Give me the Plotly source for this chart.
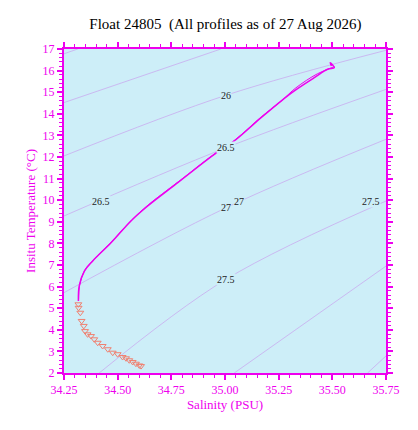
import plotly.graph_objects as go

# density contours (sigma-theta)
contours = {
    '25.0': ([34.25, 34.314], [16.78, 17.0]),
    '25.5': ([34.25, 34.981], [14.52, 17.0]),
    '26': ([34.25, 35.005, 35.75], [12.05, 14.86, 16.94]),
    '26.5': ([34.25, 35.005, 35.75], [9.27, 12.43, 15.13]),
    '27': ([34.25, 35.005, 35.75], [5.72, 9.65, 12.82]),
    '27.5': ([34.414, 35.005, 35.75], [2.0, 6.34, 9.96]),
    '28': ([35.043, 35.75], [2.0, 6.95]),
    '28.5': ([35.664, 35.75], [2.0, 2.79]),
}
labels_text = ['26', '26.5', '26.5', '27', '27', '27.5', '27.5']
labels_s = [35.005, 35.005, 34.422, 35.005, 35.066, 35.68, 35.005]
labels_t = [14.86, 12.43, 9.93, 9.65, 9.96, 9.96, 6.34]

# profiles
prof_s = [34.317, 34.321, 34.345, 34.384, 34.469, 34.562, 34.640, 34.780, 34.950,
          35.043, 35.168, 35.261, 35.323, 35.416, 35.478, 35.509, 35.490, 35.496]
prof_t = [5.33, 6.03, 6.72, 7.19, 8.03, 9.04, 9.73, 10.81, 12.12,
          12.74, 13.82, 14.59, 15.06, 15.67, 16.06, 16.13, 16.37, 16.21]
prof2_s = [35.509, 35.430, 35.330, 35.265, 35.170, 35.045, 34.952, 34.782, 34.642,
           34.565, 34.472, 34.388, 34.348, 34.323, 34.318]
prof2_t = [16.18, 15.85, 15.20, 14.62, 13.86, 12.78, 12.15, 10.85, 9.78,
           9.08, 8.08, 7.24, 6.78, 6.08, 5.40]

deep_s = [34.317, 34.318, 34.326, 34.332, 34.342, 34.348, 34.36, 34.376, 34.391, 34.407,
          34.43, 34.454, 34.477, 34.5, 34.523, 34.539, 34.554, 34.57, 34.585, 34.601, 34.609]
deep_t = [5.18, 5.02, 4.79, 4.41, 4.18, 3.94, 3.79, 3.71, 3.56, 3.40,
          3.25, 3.10, 2.94, 2.87, 2.74, 2.68, 2.59, 2.51, 2.43, 2.35, 2.32]

fig = go.Figure()
for name, (s, t) in contours.items():
    fig.add_trace(go.Scatter(x=s, y=t, mode='lines', line=dict(color='#c9a2ee', width=0.7),
                             line_shape='spline', hoverinfo='skip'))

fig.add_trace(go.Scatter(x=deep_s, y=deep_t, mode='markers',
                         marker=dict(symbol='triangle-down-open', size=6, color='#f08070')))
fig.add_trace(go.Scatter(x=prof_s, y=prof_t, mode='lines', line_shape='spline',
                         line=dict(color='#ee00ee', width=1.5)))
fig.add_trace(go.Scatter(x=prof2_s, y=prof2_t, mode='lines', line_shape='spline',
                         line=dict(color='#ee00ee', width=1)))

for txt, s, t in zip(labels_text, labels_s, labels_t):
    fig.add_annotation(x=s, y=t, text=txt, showarrow=False, bgcolor='#cdeef8',
                       font=dict(size=10, color='#222222'), borderpad=0)

axis_common = dict(showgrid=False, zeroline=False, showline=True, linecolor='#ee00ee', linewidth=2,
                   mirror='allticks', ticks='outside', tickcolor='#ee00ee', tickwidth=2, ticklen=5,
                   tickfont=dict(color='#ee00ee', size=12),
                   title_font=dict(color='#ee00ee', size=13))
fig.update_xaxes(range=[34.25, 35.75], dtick=0.25, tickformat='.2f', title_text='Salinity (PSU)',
                 title_standoff=2,
                 minor=dict(dtick=0.05, ticks='outside', ticklen=3, tickcolor='#ee00ee', tickwidth=1),
                 **axis_common)
fig.update_yaxes(range=[2, 17], dtick=1, title_text='Insitu Temperature (°C)', title_standoff=4,
                 minor=dict(dtick=0.2, ticks='outside', ticklen=3, tickcolor='#ee00ee', tickwidth=1),
                 **axis_common)

fig.update_layout(
    width=418, height=430,
    margin=dict(l=56, r=40, t=41, b=65),
    paper_bgcolor='white', plot_bgcolor='#cdeef8',
    showlegend=False,
    font=dict(family='Liberation Serif'),
    title=dict(text='Float 24805  (All profiles as of 27 Aug 2026)', x=0.52, xanchor='center',
               y=0.975, font=dict(size=15, color='black')),
)
fig.write_html('out.html')
